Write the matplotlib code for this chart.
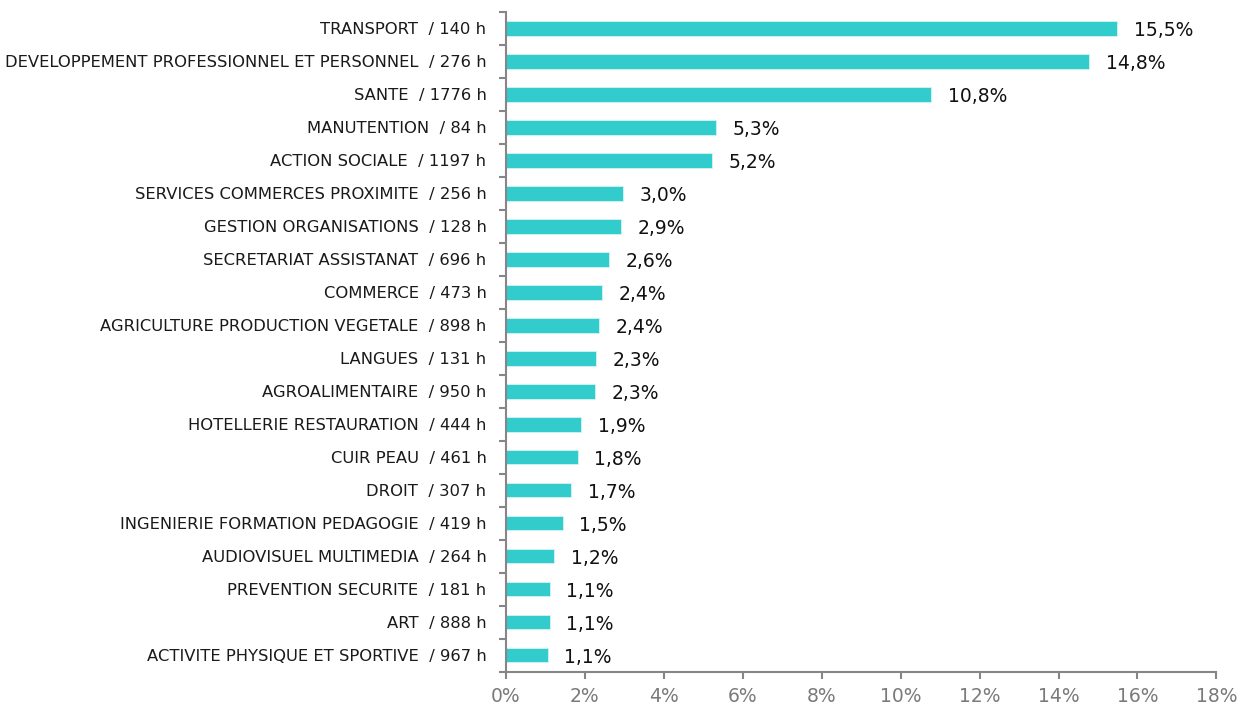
import matplotlib
matplotlib.use("Agg")
import matplotlib.pyplot as plt
import numpy as np

categories = [
    "TRANSPORT  / 140 h",
    "DEVELOPPEMENT PROFESSIONNEL ET PERSONNEL  / 276 h",
    "SANTE  / 1776 h",
    "MANUTENTION  / 84 h",
    "ACTION SOCIALE  / 1197 h",
    "SERVICES COMMERCES PROXIMITE  / 256 h",
    "GESTION ORGANISATIONS  / 128 h",
    "SECRETARIAT ASSISTANAT  / 696 h",
    "COMMERCE  / 473 h",
    "AGRICULTURE PRODUCTION VEGETALE  / 898 h",
    "LANGUES  / 131 h",
    "AGROALIMENTAIRE  / 950 h",
    "HOTELLERIE RESTAURATION  / 444 h",
    "CUIR PEAU  / 461 h",
    "DROIT  / 307 h",
    "INGENIERIE FORMATION PEDAGOGIE  / 419 h",
    "AUDIOVISUEL MULTIMEDIA  / 264 h",
    "PREVENTION SECURITE  / 181 h",
    "ART  / 888 h",
    "ACTIVITE PHYSIQUE ET SPORTIVE  / 967 h",
]
values = [15.49, 14.78, 10.78, 5.32, 5.22, 2.96, 2.91, 2.61, 2.43, 2.35,
          2.28, 2.25, 1.90, 1.82, 1.65, 1.44, 1.22, 1.11, 1.11, 1.06]
labels = ["15,5%", "14,8%", "10,8%", "5,3%", "5,2%", "3,0%", "2,9%", "2,6%", "2,4%", "2,4%",
          "2,3%", "2,3%", "1,9%", "1,8%", "1,7%", "1,5%", "1,2%", "1,1%", "1,1%", "1,1%"]
xticks = [0, 2, 4, 6, 8, 10, 12, 14, 16, 18]

plt.rcParams['font.family'] = ['DejaVu Sans']
fig = plt.figure(figsize=(12.4, 7.05), dpi=100)
ax = fig.add_axes([0.408, 0.047, 0.573, 0.936])

n = len(categories)
y = np.arange(n)
ax.barh(y, values, height=0.43, color="#33CCCC", edgecolor="#D5F3F3", linewidth=0.6)
ax.set_ylim(n - 0.5, -0.5)
ax.set_xlim(0, 18)

gray = "#868686"
for s in ["top", "right"]:
    ax.spines[s].set_visible(False)
ax.spines["left"].set_color(gray)
ax.spines["bottom"].set_color(gray)
ax.spines["left"].set_linewidth(1.5)
ax.spines["bottom"].set_linewidth(1.5)

ax.set_yticks(np.arange(-0.5, n, 1.0))
ax.set_yticklabels([])
ax.set_yticks(y, minor=True)
ax.set_yticklabels(categories, minor=True, fontsize=11.8, color="#1a1a1a")
ax.tick_params(axis="y", which="major", length=5, width=1.5, color=gray)
ax.tick_params(axis="y", which="minor", length=0, pad=14)

ax.set_xticks(xticks)
ax.set_xticklabels([f"{t}%" for t in xticks], fontsize=13.5, color="#7a7a7a")
ax.tick_params(axis="x", length=5, width=1.5, color=gray, pad=6)

for yi, v, lab in zip(y, values, labels):
    ax.annotate(lab, (v, yi), xytext=(12, -1.5), textcoords="offset points",
                va="center", ha="left", fontsize=13.5, color="#111111")

fig.savefig("out.png", dpi=100)
